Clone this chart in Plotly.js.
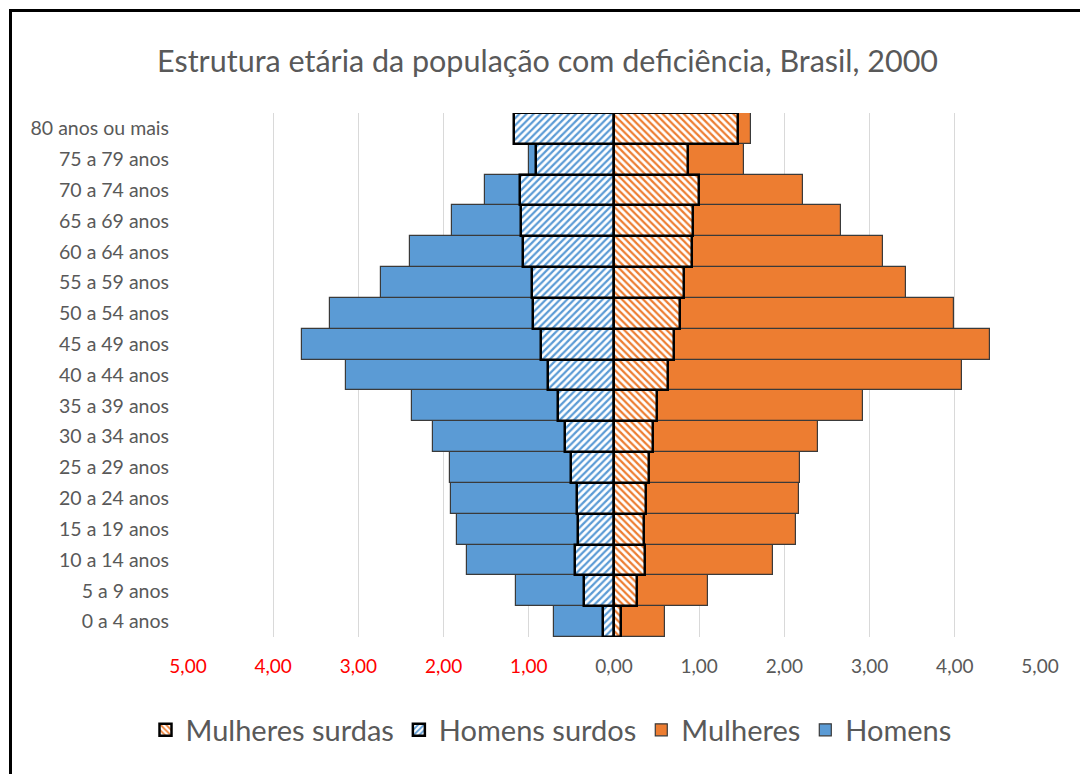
<!DOCTYPE html>
<html>
<head>
<meta charset="utf-8">
<script src="https://cdn.plot.ly/plotly-3.0.1.min.js"></script>
<style>
html,body{margin:0;padding:0;background:#fff;}
#chart{width:1080px;height:774px;position:absolute;left:0;top:0;}
#frame{position:absolute;left:9px;top:9px;width:1071px;height:765px;border-top:3px solid #000;border-left:3px solid #000;pointer-events:none;box-sizing:border-box;}
</style>
</head>
<body>
<div id="chart"></div>
<div id="frame"></div>
<script>
// Age groups, bottom to top
const categories = ["0 a 4 anos","5 a 9 anos","10 a 14 anos","15 a 19 anos","20 a 24 anos","25 a 29 anos","30 a 34 anos","35 a 39 anos","40 a 44 anos","45 a 49 anos","50 a 54 anos","55 a 59 anos","60 a 64 anos","65 a 69 anos","70 a 74 anos","75 a 79 anos","80 anos ou mais"];
// Percent of population (men drawn to the left)
const homens        = [0.70,1.15,1.72,1.84,1.91,1.92,2.12,2.37,3.15,3.66,3.33,2.74,2.39,1.90,1.51,1.00,1.15];
const homensSurdos  = [0.13,0.35,0.46,0.42,0.44,0.51,0.58,0.66,0.77,0.86,0.95,0.96,1.07,1.09,1.10,0.92,1.17];
const mulheres      = [0.60,1.10,1.87,2.14,2.17,2.18,2.39,2.92,4.09,4.41,3.99,3.43,3.16,2.67,2.22,1.52,1.61];
const mulheresSurdas= [0.08,0.27,0.36,0.35,0.38,0.41,0.46,0.50,0.63,0.71,0.78,0.82,0.91,0.93,1.00,0.87,1.45];
// X axis ticks
const tickValues = [-5,-4,-3,-2,-1,0,1,2,3,4,5];
const tickLabels = ["5,00","4,00","3,00","2,00","1,00","0,00","1,00","2,00","3,00","4,00","5,00"];

const BLUE = "#5B9BD5", ORANGE = "#ED7D31";
const neg = a => a.map(v => -v);

const traces = [
  {type:"bar", orientation:"h", name:"Homens", y:categories, x:neg(homens),
   marker:{color:BLUE, line:{color:"#3a3a3a", width:1.2}}, legendrank:4},
  {type:"bar", orientation:"h", name:"Mulheres", y:categories, x:mulheres,
   marker:{color:ORANGE, line:{color:"#3a3a3a", width:1.2}}, legendrank:3},
  {type:"bar", orientation:"h", name:"Homens surdos", y:categories, x:neg(homensSurdos),
   marker:{color:"white", line:{color:"#000", width:2.5},
     pattern:{shape:"/", fgcolor:BLUE, bgcolor:"white", size:5, solidity:0.45}}, legendrank:2},
  {type:"bar", orientation:"h", name:"Mulheres surdas", y:categories, x:mulheresSurdas,
   marker:{color:"white", line:{color:"#000", width:2.5},
     pattern:{shape:"\\", fgcolor:ORANGE, bgcolor:"white", size:5, solidity:0.45}}, legendrank:1}
];

const tickText = tickLabels.map((t,i) => tickValues[i] < 0 ? '<span style="color:#ff0000">'+t+'</span>' : t);

const layout = {
  width:1080, height:774,
  margin:{l:188, r:40, t:113, b:137},
  paper_bgcolor:"#fff", plot_bgcolor:"#fff",
  font:{family:"Lato, 'Liberation Sans', sans-serif", color:"#595959"},
  barmode:"overlay", bargap:0,
  title:{text:"Estrutura etária da população com deficiência, Brasil, 2000",
    font:{size:30.5, color:"#595959"}, xref:"container", x:0.507, xanchor:"center",
    yref:"container", y:1-61/774, yanchor:"middle"},
  xaxis:{range:[-5,5], tickvals:tickValues, ticktext:tickText, showgrid:true,
    gridcolor:"#d9d9d9", gridwidth:1, zeroline:false, showline:false, ticks:"",
    tickfont:{size:19, color:"#595959"}, ticklabelstandoff:16, fixedrange:true},
  yaxis:{type:"category", showgrid:false, zeroline:false, showline:false, ticks:"",
    tickfont:{size:19.5, color:"#595959"}, ticklabelstandoff:18, fixedrange:true},
  legend:{orientation:"h", xref:"container", yref:"container", x:551/1080, xanchor:"center",
    y:1-730/774, yanchor:"middle", font:{size:29, color:"#595959"}, itemwidth:30},
  showlegend:true
};

Plotly.newPlot("chart", traces, layout, {displayModeBar:false, staticPlot:false});
</script>
</body>
</html>
